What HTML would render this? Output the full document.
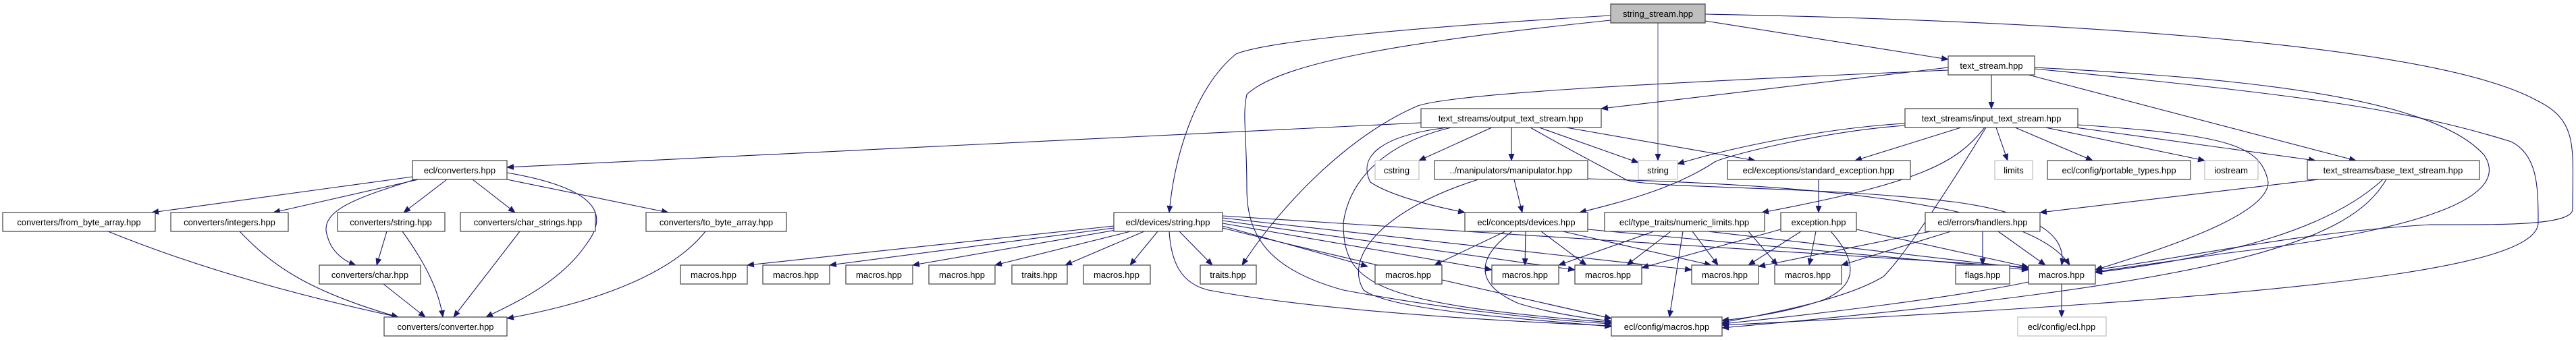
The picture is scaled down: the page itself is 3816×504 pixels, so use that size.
<!DOCTYPE html>
<html><head><meta charset="utf-8"><style>
html,body{margin:0;padding:0;background:#fff;}
svg{display:block;}
text{font-family:"Liberation Sans",sans-serif;font-size:13px;fill:#000;}
</style></head><body>
<svg width="3816" height="504" viewBox="0 0 3816 504" xmlns="http://www.w3.org/2000/svg">
<defs><marker id="a" markerWidth="11" markerHeight="9" refX="10" refY="4.5" orient="auto" markerUnits="userSpaceOnUse"><path d="M0,0L11,4.5L0,9z" fill="#191970"/></marker></defs>
<g fill="none" stroke="#191970" stroke-width="1.1" marker-end="url(#a)">
<!-- string_stream -->
<path d="M2526,31 L2886,88"/>
<path d="M2456,34 L2456,238" stroke="#5a5a9a"/>
<path d="M2386,23 C2100,40 1880,60 1831,80 C1770,130 1740,230 1732,315"/>
<path d="M2386,30 C2100,60 1900,90 1847,140 C1840,170 1847,200 1847,280 C1847,350 1880,400 1990,430 C2150,460 2300,475 2387,480"/>
<path d="M2526,21 C3000,30 3600,60 3760,150 C3820,180 3811,220 3811,310 C3811,335 3700,333 3600,333 C3400,345 3250,380 3104,400"/>
<!-- text_stream -->
<path d="M2886,100 L2372,161"/>
<path d="M2886,104 C2400,125 2150,140 2100,157 C2000,200 1900,300 1840,393"/>
<path d="M2950,111 L2950,161"/>
<path d="M3005,111 L3490,238"/>
<path d="M3014,100 C3300,115 3600,140 3680,230 C3720,290 3600,340 3300,375 L3104,403"/>
<path d="M3014,102 C3400,140 3560,160 3720,210 C3760,230 3760,280 3760,330 C3760,400 3400,440 2551,482"/>
<!-- output -->
<path d="M2105,182 L751,248"/>
<path d="M2210,189 L2102,238"/>
<path d="M2239,189 L2239,238"/>
<path d="M2280,189 L2427,241"/>
<path d="M2320,189 L2600,238"/>
<path d="M2145,189 C2050,200 2010,230 2030,270 C2060,290 2120,305 2170,315"/>
<path d="M2150,189 C2060,210 2000,260 1990,330 C1990,420 2030,450 2387,478"/>
<path d="M2267,189 C2330,225 2370,245 2410,267 C2450,280 2700,275 2900,300 C3040,320 3060,360 3054,393"/>
<!-- manipulator -->
<path d="M2243,266 L2255,315"/>
<path d="M2190,266 C2050,310 1990,380 2020,430 C2060,460 2250,472 2387,484"/>
<path d="M2352,265 C2600,272 3000,290 3066,393"/>
<!-- input -->
<path d="M2822,183 C2700,190 2560,220 2485,243"/>
<path d="M2822,186 C2700,195 2560,230 2540,240 C2480,280 2400,300 2340,315"/>
<path d="M2905,189 L2748,238"/>
<path d="M2940,189 C2900,240 2850,270 2610,315"/>
<path d="M2942,189 C2880,290 2820,380 2790,410 C2740,440 2650,460 2551,478"/>
<path d="M2957,189 L2974,238"/>
<path d="M2985,189 L3100,238"/>
<path d="M3030,189 L3266,238"/>
<path d="M3060,187 L3430,238"/>
<path d="M3078,185 C3300,200 3350,215 3360,270 C3360,320 3200,370 3104,400"/>
<!-- base -->
<path d="M3435,266 L3022,315"/>
<path d="M3530,266 C3450,340 3300,380 3104,404"/>
<path d="M3535,266 C3480,360 3300,420 2551,486"/>
<!-- std exc -->
<path d="M2694,266 L2694,315"/>
<!-- concepts/devices -->
<path d="M2230,343 L2125,393"/>
<path d="M2260,343 L2259,393"/>
<path d="M2283,343 L2350,393"/>
<path d="M2315,343 L2535,393"/>
<path d="M2240,343 C2190,380 2180,420 2250,450 C2300,465 2350,472 2387,476"/>
<path d="M2352,340 L3005,400"/>
<!-- numeric -->
<path d="M2450,343 L2309,393"/>
<path d="M2475,343 L2410,393"/>
<path d="M2493,343 L2473,470"/>
<path d="M2507,343 L2545,393"/>
<path d="M2530,343 L3005,398"/>
<path d="M2590,343 L2633,393"/>
<!-- exception -->
<path d="M2668,343 L2590,393"/>
<path d="M2690,343 L2680,393"/>
<path d="M2712,343 C2745,380 2760,420 2700,445 C2650,462 2600,470 2551,475"/>
<path d="M2750,340 L3005,396"/>
<path d="M2638,340 L2432,397"/>
<!-- handlers -->
<path d="M2937,343 L2937,393"/>
<path d="M2960,343 L3030,393"/>
<path d="M2890,343 L2728,393"/>
<path d="M2860,343 L2605,395"/>
<!-- K -->
<path d="M3054,421 L3054,470"/>
<path d="M3005,418 C2900,440 2700,465 2551,480"/>
<!-- devices/string -->
<path d="M1650,335 L1107,393"/>
<path d="M1650,338 L1229,393"/>
<path d="M1653,341 L1352,393"/>
<path d="M1675,343 L1474,393"/>
<path d="M1695,343 L1578,393"/>
<path d="M1715,343 L1674,393"/>
<path d="M1747,343 L1796,393"/>
<path d="M1732,343 C1735,390 1750,420 1790,430 C1950,460 2200,475 2387,483"/>
<path d="M1811,335 L2026,395"/>
<path d="M1811,331 L2210,400"/>
<path d="M1811,327 L2333,400"/>
<path d="M1811,323 L2506,400"/>
<path d="M1811,320 L3005,396"/>
<path d="M1811,338 C1900,360 1980,380 2387,472"/>
<!-- converters -->
<path d="M611,262 L225,315"/>
<path d="M620,266 L405,315"/>
<path d="M662,266 L598,315"/>
<path d="M615,266 C540,290 470,310 485,350 C490,370 505,385 527,393"/>
<path d="M700,266 L763,315"/>
<path d="M751,266 L990,315"/>
<path d="M751,256 C890,280 900,320 870,360 C830,420 760,450 720,470"/>
<path d="M160,343 C300,400 450,440 590,470"/>
<path d="M355,343 C400,390 450,430 590,470"/>
<path d="M573,343 L558,393"/>
<path d="M596,343 C630,390 650,430 656,470"/>
<path d="M568,421 L630,470"/>
<path d="M770,343 L672,470"/>
<path d="M1045,343 C1000,400 900,445 751,472"/>
</g>
<g stroke-width="1.2">
<g stroke="#404040" fill="#fff">
<rect x="2386" y="6" width="140" height="28" fill="#bfbfbf"/>
<rect x="2886" y="83" width="128" height="28"/>
<rect x="2105" y="161" width="267" height="28"/>
<rect x="2822" y="161" width="256" height="28"/>
<rect x="611" y="238" width="140" height="28"/>
<rect x="2125" y="238" width="227" height="28"/>
<rect x="2559" y="238" width="271" height="28"/>
<rect x="3033" y="238" width="212" height="28"/>
<rect x="3418" y="238" width="255" height="28"/>
<rect x="4" y="315" width="226" height="28"/>
<rect x="253" y="315" width="174" height="28"/>
<rect x="500" y="315" width="159" height="28"/>
<rect x="682" y="315" width="200" height="28"/>
<rect x="957" y="315" width="208" height="28"/>
<rect x="1650" y="315" width="161" height="28"/>
<rect x="2170" y="315" width="182" height="28"/>
<rect x="2377" y="315" width="237" height="28"/>
<rect x="2638" y="315" width="112" height="28"/>
<rect x="2852" y="315" width="170" height="28"/>
<rect x="473" y="393" width="150" height="28"/>
<rect x="1008" y="393" width="99" height="28"/>
<rect x="1130" y="393" width="99" height="28"/>
<rect x="1253" y="393" width="99" height="28"/>
<rect x="1376" y="393" width="98" height="28"/>
<rect x="1499" y="393" width="82" height="28"/>
<rect x="1605" y="393" width="99" height="28"/>
<rect x="1778" y="393" width="83" height="28"/>
<rect x="2037" y="393" width="99" height="28"/>
<rect x="2210" y="393" width="99" height="28"/>
<rect x="2333" y="393" width="99" height="28"/>
<rect x="2506" y="393" width="99" height="28"/>
<rect x="2629" y="393" width="99" height="28"/>
<rect x="2897" y="393" width="80" height="28"/>
<rect x="3005" y="393" width="99" height="28"/>
<rect x="569" y="470" width="182" height="28"/>
<rect x="2387" y="470" width="164" height="28"/>
</g>
<g stroke="#bfbfbf" fill="#fff">
<rect x="2037" y="238" width="65" height="28"/>
<rect x="2427" y="238" width="58" height="28"/>
<rect x="2955" y="238" width="56" height="28"/>
<rect x="3266" y="238" width="79" height="28"/>
<rect x="2989" y="470" width="131" height="28"/>
</g>
</g>
<g text-anchor="middle">
<text x="2456" y="25">string_stream.hpp</text>
<text x="2950" y="102">text_stream.hpp</text>
<text x="2238" y="180">text_streams/output_text_stream.hpp</text>
<text x="2950" y="180">text_streams/input_text_stream.hpp</text>
<text x="681" y="257">ecl/converters.hpp</text>
<text x="2069" y="257">cstring</text>
<text x="2238" y="257">../manipulators/manipulator.hpp</text>
<text x="2456" y="257">string</text>
<text x="2694" y="257">ecl/exceptions/standard_exception.hpp</text>
<text x="2983" y="257">limits</text>
<text x="3139" y="257">ecl/config/portable_types.hpp</text>
<text x="3305" y="257">iostream</text>
<text x="3545" y="257">text_streams/base_text_stream.hpp</text>
<text x="117" y="334">converters/from_byte_array.hpp</text>
<text x="340" y="334">converters/integers.hpp</text>
<text x="579" y="334">converters/string.hpp</text>
<text x="782" y="334">converters/char_strings.hpp</text>
<text x="1061" y="334">converters/to_byte_array.hpp</text>
<text x="1730" y="334">ecl/devices/string.hpp</text>
<text x="2261" y="334">ecl/concepts/devices.hpp</text>
<text x="2495" y="334">ecl/type_traits/numeric_limits.hpp</text>
<text x="2694" y="334">exception.hpp</text>
<text x="2937" y="334">ecl/errors/handlers.hpp</text>
<text x="548" y="412">converters/char.hpp</text>
<text x="1057" y="412">macros.hpp</text>
<text x="1179" y="412">macros.hpp</text>
<text x="1302" y="412">macros.hpp</text>
<text x="1425" y="412">macros.hpp</text>
<text x="1540" y="412">traits.hpp</text>
<text x="1654" y="412">macros.hpp</text>
<text x="1819" y="412">traits.hpp</text>
<text x="2086" y="412">macros.hpp</text>
<text x="2259" y="412">macros.hpp</text>
<text x="2382" y="412">macros.hpp</text>
<text x="2555" y="412">macros.hpp</text>
<text x="2678" y="412">macros.hpp</text>
<text x="2937" y="412">flags.hpp</text>
<text x="3054" y="412">macros.hpp</text>
<text x="660" y="489">converters/converter.hpp</text>
<text x="2469" y="489">ecl/config/macros.hpp</text>
<text x="3054" y="489">ecl/config/ecl.hpp</text>
</g>
</svg>
</body></html>
